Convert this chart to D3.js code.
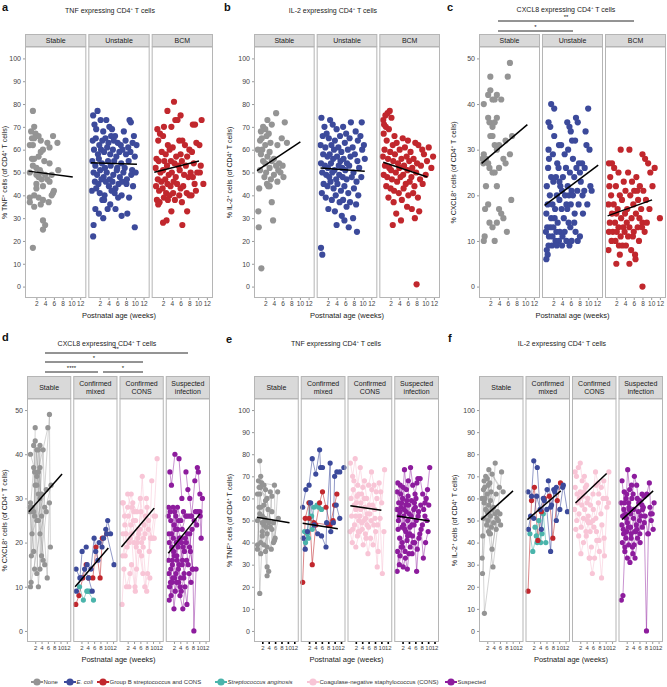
<!DOCTYPE html>
<html><head><meta charset="utf-8">
<script src="https://cdn.jsdelivr.net/npm/d3@7"></script>
<style>body{margin:0;background:#fff}</style>
</head><body>
<script>
// ---------------- DATA ----------------
const xTicks = [2,4,6,8,10,12];
const yTicks100 = [0,10,20,30,40,50,60,70,80,90,100];
const yTicks50 = [0,10,20,30,40,50];
const topFacets = ["Stable","Unstable","BCM"];
const bottomFacets = [["Stable"],["Confirmed","mixed"],["Confirmed","CONS"],["Suspected","infection"]];

// [week, %, subject]
const aStable = [[1.2,77,1],[1.5,70,2],[0.8,68,3],[1.8,67,1],[2.5,66,2],[1.0,65,4],[1.5,65,5],[3.0,64,3],[5.8,66,1],[0.5,62,6],[1.2,62,7],[6.8,63,2],[3.5,60,4],[3.0,59,5],[2.5,57,6],[1.0,56,8],[1.5,56,9],[3.8,55,7],[5.0,54,3],[1.2,53,10],[2.0,52,8],[2.8,51,9],[7.0,51,4],[0.5,50,11],[3.0,50,10],[2.0,49,11],[4.0,49,5],[5.5,49,6],[2.5,48,12],[3.2,47,7],[4.5,47,8],[5.0,46,9],[2.0,45,10],[3.5,44,12],[2.0,43,11],[6.0,42,1],[5.8,41,2],[1.5,40,3],[5.5,40,4],[0.5,39,5],[2.5,39,6],[3.5,38,7],[0.5,37,8],[4.8,37,9],[3.0,36,10],[1.5,35,11],[3.5,29,12],[4.0,27,12],[3.5,25,10],[1.2,17,6],[4.5,63,3],[5.0,61,5]];
const aUnstable = [[0.5,75],[1.5,77],[0.8,71],[2.2,73],[3.5,73],[4.8,69],[8.8,73],[9.1,72],[1.2,69],[2.8,68],[4.2,70],[5.5,66],[7.5,68],[9.8,66],[0.4,64],[1.1,65],[1.9,62],[2.6,64],[3.3,65],[4.0,63],[4.6,66],[5.2,64],[6.1,63],[6.8,62],[7.9,64],[8.5,61],[9.5,63],[10.4,62],[0.7,60],[1.6,58],[2.3,60],[3.0,59],[3.7,61],[4.4,58],[5.0,60],[5.8,57],[6.5,59],[7.2,60],[8.0,58],[9.0,59],[10.0,57],[0.3,55],[1.0,53],[1.8,56],[2.5,54],[3.2,52],[3.9,55],[4.5,53],[5.3,55],[6.0,52],[6.9,54],[7.7,52],[8.6,55],[9.4,51],[0.6,50],[1.4,49],[2.1,51],[2.9,48],[3.6,50],[4.3,47],[5.1,49],[5.9,51],[6.6,48],[7.4,50],[8.2,47],[9.2,49],[10.2,50],[0.9,46],[1.7,45],[2.4,47],[3.4,46],[4.1,44],[4.9,46],[5.6,43],[6.3,45],[7.1,46],[8.1,45],[9.6,44],[0.2,42],[1.2,43],[2.0,41],[3.1,40],[4.7,42],[5.4,41],[6.2,39],[7.0,40],[8.7,39],[1.0,34],[1.8,32],[2.6,38],[3.0,38],[3.8,34],[4.4,36],[5.6,34],[7.0,31],[8.3,32],[2.8,30],[0.6,27],[0.5,22],[10.0,26]];
const aBCM = [[4.5,81],[3.0,77],[6.0,75],[4.8,73],[5.3,73],[10.8,73],[0.7,69],[2.2,70],[3.9,70],[8.8,71],[9.3,71],[1.3,67],[2.0,66],[5.7,64],[6.4,64],[9.6,63],[0.9,64],[3.1,62],[4.2,61],[7.0,62],[8.0,60],[10.3,62],[1.7,59],[2.6,58],[3.5,60],[5.0,57],[6.0,58],[7.5,57],[8.6,59],[0.5,56],[1.0,55],[2.3,55],[2.9,53],[3.8,55],[4.6,54],[5.5,53],[6.3,55],[7.2,53],[9.0,54],[10.6,53],[0.3,52],[1.4,50],[2.0,51],[3.3,49],[4.0,50],[4.9,48],[5.8,51],[6.8,49],[7.8,48],[8.3,50],[9.8,50],[10.4,50],[0.8,47],[1.6,46],[2.5,47],[3.0,45],[3.7,44],[4.4,46],[5.2,45],[6.0,43],[6.6,44],[8.8,48],[9.2,45],[11.2,45],[0.4,44],[1.1,42],[1.9,43],[2.7,41],[3.5,40],[4.3,41],[5.7,40],[7.4,41],[8.5,40],[9.5,42],[0.6,38],[1.2,37],[0.9,36],[2.2,39],[3.1,38],[4.7,38],[6.3,37],[8.0,40],[3.9,33],[7.5,33],[2.0,28],[2.8,29],[6.4,27]];

const bStable = [[4.5,76,1],[2.5,73,2],[6.5,72,3],[3.5,71,4],[1.5,70,5],[2.0,69,6],[1.0,68,7],[2.8,67,1],[2.3,66,8],[1.2,65,9],[5.8,65,2],[0.8,64,10],[3.2,63,3],[7.0,63,4],[4.8,62,5],[2.0,62,11],[0.3,60,12],[1.3,60,1],[3.0,59,6],[1.0,58,7],[2.5,57,8],[4.0,56,9],[1.5,55,10],[3.5,55,11],[5.2,54,12],[2.0,54,2],[4.5,53,3],[6.0,53,6],[3.0,52,7],[0.8,51,4],[5.0,51,8],[2.2,50,9],[5.5,50,10],[4.0,49,11],[1.8,48,5],[6.2,48,12],[3.3,47,1],[4.8,46,3],[2.4,45,2],[2.7,44,4],[3.0,44,6],[0.6,43,7],[3.5,37,8],[0.4,33,9],[3.8,29,10],[0.5,26,11],[1.1,8,12]];
const bUnstable = [[0.5,74],[2.5,73],[7.3,72],[9.8,72],[1.2,70],[3.1,71],[4.0,69],[5.5,70],[6.2,67],[8.4,68],[0.8,66],[1.7,67],[2.2,65],[3.6,64],[4.8,66],[5.9,63],[7.0,65],[8.9,64],[9.5,66],[10.3,62],[0.3,62],[1.4,61],[2.8,62],[3.4,60],[4.4,61],[5.1,59],[6.6,60],[7.7,61],[8.2,58],[9.9,60],[0.9,58],[1.9,57],[2.4,58],[3.2,56],[4.1,57],[4.9,55],[5.6,56],[6.4,54],[7.2,57],[8.8,55],[10.5,56],[0.4,54],[1.3,53],[2.0,52],[2.7,54],[3.5,51],[4.5,53],[5.3,52],[6.0,51],[6.9,53],[7.9,50],[9.2,52],[0.7,50],[1.6,49],[2.3,48],[3.0,50],[3.9,47],[4.6,49],[5.4,48],[6.3,47],[7.5,48],[8.6,46],[9.7,48],[1.0,45],[1.9,44],[2.6,46],[3.3,43],[4.2,45],[5.0,42],[5.8,44],[6.7,41],[8.0,43],[9.0,40],[0.6,41],[1.5,39],[2.9,38],[3.8,40],[4.7,37],[5.5,38],[7.1,37],[8.5,36],[2.1,34],[3.6,33],[5.2,31],[6.3,35],[7.8,30],[4.0,27],[6.8,26],[8.7,24],[0.4,17],[0.7,14],[5.8,29]];
const bBCM = [[1.8,77],[1.3,76],[0.8,75],[2.2,74],[0.3,73],[0.5,71],[0.9,70],[1.6,69],[0.4,67],[2.9,66],[4.8,65],[6.0,64],[7.7,63],[1.1,64],[2.5,62],[3.4,63],[5.3,61],[8.4,62],[9.3,60],[10.8,61],[0.6,60],[1.9,59],[3.0,58],[4.1,60],[5.7,57],[6.6,59],[7.3,56],[9.7,58],[11.8,57],[0.2,57],[1.4,56],[2.6,55],[3.7,54],[4.5,56],[5.1,53],[6.3,55],[7.0,52],[8.1,54],[9.0,53],[10.4,55],[0.7,53],[1.7,52],[2.1,51],[3.2,50],[4.0,52],[4.9,49],[5.9,51],[6.8,48],[7.9,50],[8.8,47],[10.1,49],[11.4,52],[0.4,49],[1.2,48],[2.3,47],[3.5,46],[4.3,48],[5.5,45],[6.4,46],[7.5,44],[9.4,45],[1.0,44],[2.0,43],[2.8,42],[3.9,41],[5.0,43],[6.1,40],[7.2,41],[8.3,39],[1.5,39],[2.7,37],[4.6,38],[5.8,35],[6.9,34],[3.3,32],[8.6,33],[4.4,29],[7.6,30],[2.5,27],[8.0,1]];

const cStable = [[6.5,49,1],[2.0,46,2],[6.0,46,3],[2.0,43,4],[1.5,42,5],[2.5,41,6],[3.0,41,7],[3.5,42,8],[4.5,41,9],[0.5,40,10],[1.5,37,1],[1.8,36,2],[2.5,35,3],[3.0,36,4],[3.5,37,5],[2.0,33,6],[2.5,33,7],[3.0,31,8],[3.5,30,9],[4.0,31,10],[5.5,32,11],[7.0,33,12],[1.0,28,11],[0.5,29,12],[0.4,27,1],[0.2,28,2],[1.5,27,3],[1.8,26,4],[2.5,25,5],[3.0,25,6],[4.0,26,7],[5.5,27,8],[5.0,28,9],[6.5,29,10],[1.0,22,11],[3.5,22,12],[6.8,19,1],[1.5,18,2],[0.8,17,3],[4.0,17,4],[4.5,16,5],[5.0,15,6],[1.8,14,7],[3.5,14,8],[2.5,13,9],[5.8,12,10],[0.7,11,11],[0.5,10,12],[3.0,10,1]];
const cUnstable = [[1.5,40],[2.2,39],[10.0,39],[7.2,37],[0.9,36],[5.2,36],[1.3,35],[5.7,35],[6.0,34],[7.6,36],[9.4,34],[2.2,33],[7.0,32],[6.3,32],[3.8,31],[3.3,31],[9.6,31],[5.4,30],[0.9,30],[10.3,30],[1.9,29],[4.6,29],[8.6,27],[1.0,28],[2.9,27],[6.5,28],[7.9,27],[9.2,26],[0.8,26],[3.2,26],[4.9,26],[7.3,26],[5.8,25],[1.5,24],[2.6,24],[4.2,24],[6.8,24],[8.3,23],[10.5,22],[0.5,22],[2.0,23],[3.6,22],[5.3,22],[6.2,21],[7.5,21],[9.1,21],[10.8,21],[1.2,20],[2.8,20],[4.0,21],[4.7,20],[5.6,20],[6.5,20],[8.7,20],[0.7,18],[1.8,18],[3.4,19],[5.0,18],[6.0,18],[7.8,18],[9.8,18],[2.4,17],[3.9,17],[5.2,17],[6.9,16],[8.8,16],[0.4,16],[1.5,15],[2.3,15],[3.0,14],[4.4,15],[5.5,14],[6.8,14],[0.6,13],[1.3,13],[2.0,13],[2.7,12],[3.5,12],[4.6,12],[5.9,13],[7.1,12],[8.1,11],[0.3,12],[1.0,11],[1.8,11],[2.5,10],[3.3,10],[4.1,11],[5.0,10],[6.2,10],[7.6,10],[0.9,9],[1.7,9],[2.8,9],[4.0,9],[5.7,9],[0.5,8],[0.7,7],[0.4,6],[3.4,23],[8.1,25]];
const cBCM = [[3.0,30],[5.0,30],[8.0,29],[8.6,28],[0.3,27],[1.0,27],[9.3,27],[1.5,26],[10.8,26],[2.5,25],[4.7,25],[6.6,24],[0.6,24],[9.8,25],[3.7,23],[5.6,23],[7.4,22],[0.4,22],[1.9,22],[4.1,21],[6.1,21],[6.8,21],[8.2,21],[10.3,22],[0.8,20],[2.8,20],[3.3,19],[5.2,20],[7.0,19],[8.8,19],[9.6,17],[0.2,18],[1.4,18],[2.3,17],[4.5,17],[5.9,18],[7.7,17],[1.0,16],[2.0,16],[3.1,15],[4.0,16],[5.5,15],[6.5,16],[7.3,15],[8.0,14],[9.0,14],[12.0,15],[0.5,14],[1.7,14],[2.5,13],[3.6,13],[4.4,14],[5.0,13],[6.0,12],[6.9,13],[7.9,13],[8.5,12],[0.3,12],[1.2,12],[2.1,12],[3.0,11],[3.9,12],[4.7,11],[5.8,11],[7.2,10],[0.9,10],[1.8,10],[2.6,9],[3.4,9],[4.2,9],[5.4,8],[6.3,7],[0.2,8],[2.8,7],[6.4,6],[2.0,5],[5.0,5],[8.0,0]];

// bottom row: [week, %, subject]
const dEcoli = [[0.3,14,1],[1.5,12,1],[2.2,18,1],[3.5,19,1],[0.4,9,2],[1.8,12,2],[3.0,14,2],[4.2,12,2],[5.4,9,2],[3.8,15,3],[5.0,14,3],[6.0,21,3],[7.2,16,3],[6.5,18,4],[7.6,20,4],[8.5,19,4],[9.7,23,4],[10.3,25,4],[11.2,22,4],[9.0,21,5],[10.0,22,5],[12.3,15,5]];
const dGBS = [[0.2,6,1],[1.2,8,1],[2.4,12,1],[3.5,15,1],[4.3,12,2],[5.6,12,2],[6.6,19,2],[7.9,12,2],[8.6,21,2],[10.0,22,2]];
const dAnginosis = [[1.4,10,1],[2.6,7,1],[3.7,9,1],[4.6,9,1],[4.0,9,2],[5.8,7,2]];
const dCONS = [[0.3,29,1],[1.0,26,1],[2.0,28,1],[3.1,31,1],[4.0,27,1],[0.5,22,2],[1.2,17,2],[2.5,20,2],[3.3,22,2],[4.5,25,2],[0.2,6,3],[0.8,14,3],[1.6,10,3],[2.7,13,3],[1.1,24,4],[2.2,26,4],[3.6,29,4],[4.9,27,4],[6.0,30,4],[7.2,24,4],[0.6,29,5],[1.8,19,5],[3.0,24,5],[4.3,10,5],[5.2,21,5],[2.0,31,6],[3.8,25,6],[5.5,22,6],[6.6,35,6],[7.5,22,6],[2.4,10,7],[3.2,15,7],[4.4,9,7],[5.7,18,7],[6.8,13,7],[5.0,20,8],[6.2,27,8],[7.0,21,8],[8.1,28,8],[8.8,18,8],[9.6,34,8],[6.4,17,9],[7.4,10,9],[8.3,13,9],[9.2,21,9],[10.4,21,9],[7.9,30,10],[8.6,25,10],[9.4,21,10],[10.3,26,10],[11.3,39,10],[4.7,19,11],[5.9,23,11],[6.9,19,11],[8.0,9,11],[9.0,12,11],[1.4,22,12],[2.8,21,12],[4.0,20,12],[5.3,23,12],[6.4,20,12],[0.4,17,13],[1.5,22,13],[3.4,28,13],[4.8,14,13],[7.6,26,14],[8.5,23,14],[10.0,21,14],[10.8,26,14]];
const dSuspected = [[0.7,36,1],[1.2,33,1],[2.3,40,1],[3.6,39,1],[4.5,30,1],[0.3,28,2],[1.0,25,2],[1.8,21,2],[2.6,26,2],[3.2,20,2],[0.4,13,3],[0.9,11,3],[1.5,15,3],[2.2,12,3],[3.0,16,3],[4.1,12,3],[0.5,20,4],[1.3,19,4],[2.0,24,4],[2.9,17,4],[3.7,21,4],[4.6,15,4],[0.6,10,5],[1.1,8,5],[1.6,12,5],[2.4,9,5],[3.4,14,5],[4.0,10,5],[0.5,7,6],[1.4,11,6],[2.0,5,6],[2.8,11,6],[3.9,8,6],[4.8,5,6],[5.5,10,6],[5.8,36,7],[6.4,32,7],[7.0,30,7],[7.6,26,7],[8.6,34,7],[9.4,37,7],[9.7,36,7],[10.2,31,7],[0.2,26,8],[0.8,27,8],[1.7,28,8],[2.5,23,8],[3.1,28,8],[4.2,25,8],[5.0,27,8],[6.1,26,8],[2.1,17,9],[3.3,19,9],[4.4,20,9],[5.3,18,9],[6.2,22,9],[6.9,19,9],[7.7,23,9],[3.5,11,10],[4.3,9,10],[5.1,12,10],[6.1,6,10],[6.8,13,10],[7.4,11,10],[4.7,16,11],[5.6,21,11],[6.5,15,11],[7.2,18,11],[8.0,14,11],[8.3,0,11],[9.0,14,11],[1.0,14,12],[1.9,18,12],[2.7,20,12],[3.5,25,12],[4.6,23,12],[5.7,26,12],[6.7,26,12],[7.3,26,12],[8.8,27,13],[9.5,27,13],[10.2,27,13],[10.6,21,13],[11.0,30,13],[0.3,16,14],[1.2,22,14],[2.2,27,14],[3.2,23,14],[4.1,21,14],[5.2,13,14],[6.0,16,14],[0.4,22,15],[1.5,16,15],[2.6,13,15],[3.6,15,15],[4.9,19,15],[5.9,20,15],[7.0,22,16],[7.8,14,16],[8.4,25,16],[9.2,24,16],[10.3,26,16]];

const eEcoli = [[0.0,56,1],[1.0,64,1],[2.0,66,1],[3.0,78,1],[4.1,71,1],[5.3,82,1],[5.6,74,1],[6.2,74,1],[0.2,42,2],[0.8,37,2],[1.5,45,2],[2.5,58,2],[3.6,48,2],[4.7,44,2],[5.9,43,2],[7.3,38,2],[7.5,49,2],[8.6,76,2],[8.8,45,2],[9.6,49,3],[10.0,70,3],[10.7,72,3],[11.6,72,3],[12.9,74,3],[10.5,57,4],[11.6,51,4]];
const eGBS = [[0.0,22,1],[0.8,51,1],[2.0,58,1],[3.0,30,1],[4.1,48,1],[5.3,58,1],[6.2,63,1],[7.3,56,1],[8.6,48,1],[10.0,57,1],[10.7,62,1],[2.0,51,2],[3.5,49,2],[8.0,48,2],[9.5,50,2]];
const eAnginosis = [[0.6,45,1],[1.5,44,1],[2.0,58,1],[3.0,46,1],[3.5,56,1],[4.5,57,1],[5.0,56,1],[5.9,55,1],[0.9,40,2],[1.8,42,2],[2.8,52,2]];
const eCONS = [[0.3,76,1],[1.0,70,1],[1.8,78,1],[2.6,66,1],[3.4,74,1],[4.2,65,1],[0.5,60,2],[1.2,64,2],[2.0,55,2],[2.9,62,2],[3.6,58,2],[4.5,50,2],[0.2,45,3],[0.9,40,3],[1.6,48,3],[2.5,43,3],[3.3,52,3],[1.4,68,4],[2.2,58,4],[3.0,50,4],[4.0,46,4],[4.8,56,4],[5.5,48,4],[6.4,53,4],[3.8,62,5],[4.7,68,5],[5.4,60,5],[6.2,57,5],[7.0,64,5],[7.9,55,5],[8.6,60,5],[5.0,44,6],[5.8,35,6],[6.6,42,6],[7.4,39,6],[8.2,45,6],[9.0,36,6],[6.0,66,7],[6.9,72,7],[7.7,66,7],[8.4,63,7],[9.3,67,7],[10.1,58,7],[11.0,73,7],[2.0,38,8],[3.2,45,8],[4.3,39,8],[5.2,42,8],[6.8,50,8],[7.6,48,8],[8.0,51,9],[8.8,48,9],[9.6,51,9],[10.3,26,9],[10.8,45,9],[0.7,52,10],[1.5,57,10],[2.4,61,10],[3.5,55,10],[4.6,60,10],[5.6,53,10],[7.2,57,10],[8.7,29,10],[9.8,63,10],[1.0,46,11],[2.0,52,11],[2.8,45,11],[3.9,49,11],[5.1,51,11],[6.0,47,11]];
const eSuspected = [[0.3,63,1],[0.8,58,1],[1.3,66,1],[2.0,60,1],[2.6,73,1],[3.2,64,1],[3.8,68,1],[0.2,55,2],[0.7,50,2],[1.2,54,2],[1.8,47,2],[2.4,52,2],[3.0,45,2],[3.6,50,2],[4.2,44,2],[0.4,36,3],[1.0,30,3],[1.6,38,3],[2.2,29,3],[2.9,33,3],[3.5,28,3],[4.0,35,3],[0.3,27,4],[1.1,42,4],[1.9,40,4],[2.7,46,4],[3.4,41,4],[4.4,38,4],[5.1,43,4],[0.5,67,5],[1.4,62,5],[2.2,65,5],[3.0,57,5],[3.7,61,5],[4.5,74,5],[5.2,66,5],[5.9,62,5],[6.5,67,5],[0.6,46,6],[1.5,56,6],[2.3,48,6],[3.1,54,6],[3.9,57,6],[4.7,52,6],[5.5,55,6],[6.3,50,6],[7.0,54,6],[4.8,59,7],[5.6,48,7],[6.4,27,7],[7.1,42,7],[7.8,46,7],[8.5,33,7],[9.2,40,7],[10.0,45,7],[5.0,35,8],[5.8,40,8],[6.6,37,8],[7.4,44,8],[8.2,48,8],[9.0,52,8],[9.6,50,8],[6.8,69,9],[7.5,69,9],[8.3,62,9],[9.0,58,9],[9.8,64,9],[10.5,74,9],[0.9,52,10],[1.7,58,10],[2.5,55,10],[3.3,59,10],[4.1,53,10],[4.9,48,10],[5.7,58,10],[6.2,60,10],[1.2,34,11],[2.0,38,11],[2.8,36,11],[3.6,43,11],[4.3,47,11],[5.3,40,11],[6.0,56,12],[6.9,52,12],[7.7,57,12],[8.6,55,12],[9.4,60,12],[10.2,57,12]];

const fEcoli = [[0.2,63,1],[1.3,61,1],[2.0,77,1],[3.1,74,1],[4.4,46,1],[5.3,59,1],[0.3,46,2],[1.0,52,2],[2.0,51,2],[2.9,61,2],[4.0,55,2],[5.0,60,2],[6.2,64,2],[7.3,56,2],[6.1,55,3],[7.3,36,3],[8.3,64,3],[9.1,65,3],[9.1,50,3],[10.2,55,3],[11.3,66,3],[12.6,54,3],[6.6,68,4],[7.6,57,4],[8.6,63,4],[11.1,65,4]];
const fGBS = [[0.2,18,1],[1.3,59,1],[2.2,65,1],[3.3,41,1],[4.4,54,1],[5.3,60,1],[6.9,61,1],[8.0,42,1],[9.4,59,1],[10.4,67,1]];
const fAnginosis = [[0.8,44,1],[1.7,36,1],[2.8,43,1],[3.6,50,1],[4.2,40,1],[5.0,53,1],[5.8,40,1],[2.4,47,2],[3.1,40,2],[4.6,44,2]];
const fCONS = [[0.3,72,1],[0.8,70,1],[1.4,74,1],[2.0,76,1],[2.6,68,1],[3.3,70,1],[4.0,66,1],[0.4,65,2],[1.0,62,2],[1.7,60,2],[2.5,57,2],[3.2,63,2],[4.1,58,2],[0.2,55,3],[0.9,50,3],[1.6,53,3],[2.3,47,3],[3.0,51,3],[3.8,45,3],[4.6,49,3],[0.6,46,4],[1.5,43,4],[2.2,35,4],[3.0,40,4],[3.9,43,4],[4.8,33,4],[5.5,38,4],[2.8,61,5],[3.6,65,5],[4.4,60,5],[5.2,57,5],[6.0,62,5],[6.8,72,5],[7.6,67,5],[4.5,52,6],[5.3,49,6],[6.1,55,6],[6.9,51,6],[7.7,58,6],[8.5,53,6],[9.2,60,6],[5.0,33,7],[5.8,26,7],[6.5,33,7],[7.2,41,7],[8.0,36,7],[8.7,24,7],[9.5,42,7],[6.3,47,8],[7.1,45,8],[7.9,41,8],[8.8,48,8],[9.6,34,8],[10.4,56,8],[11.0,72,8],[1.2,58,9],[2.0,63,9],[3.4,55,9],[4.2,50,9],[5.1,45,9],[6.0,50,9],[7.0,66,10],[7.8,62,10],[8.6,65,10],[9.4,68,10],[10.2,60,10],[10.9,58,10]];
const fSuspected = [[0.2,58,1],[0.7,52,1],[1.2,63,1],[1.8,60,1],[2.3,73,1],[2.9,64,1],[3.5,66,1],[4.0,62,1],[0.3,14,2],[0.8,16,2],[1.4,38,2],[2.0,45,2],[2.6,39,2],[3.2,47,2],[3.9,35,2],[0.4,48,3],[1.0,44,3],[1.6,53,3],[2.2,49,3],[2.8,55,3],[3.4,42,3],[4.1,51,3],[4.8,45,3],[0.5,68,4],[1.3,58,4],[2.0,62,4],[2.7,56,4],[3.6,60,4],[4.4,70,4],[5.1,66,4],[5.8,58,4],[0.6,40,5],[1.4,36,5],[2.2,33,5],[3.0,31,5],[3.8,38,5],[4.6,33,5],[5.4,42,5],[6.2,40,5],[1.1,55,6],[1.9,51,6],[2.6,58,6],[3.3,53,6],[4.2,55,6],[5.0,48,6],[5.7,54,6],[6.5,52,6],[7.2,56,6],[4.5,45,7],[5.3,60,7],[6.1,44,7],[6.8,62,7],[7.5,49,7],[8.2,0,7],[8.8,44,7],[9.5,53,7],[6.0,59,8],[6.8,57,8],[7.5,61,8],[8.3,62,8],[9.1,67,8],[9.7,50,8],[10.3,46,8],[0.9,46,9],[1.7,42,9],[2.5,47,9],[3.4,44,9],[4.3,39,9],[5.2,46,9],[6.0,50,9],[6.9,47,9],[7.0,55,10],[7.8,52,10],[8.6,44,10],[9.3,56,10],[10.0,53,10],[10.6,58,10]];

// fitted trend lines: [start, end] per facet
const trendA = [[[0.2,50.6],[10.3,48]],[[0,54.3],[10.5,53.6]],[[0,50.1],[10.2,55]]];
const trendB = [[[0.1,50.8],[10.1,63.4]],[[0.3,52],[10.5,50.5]],[[0.3,54.5],[10.5,48]]];
const trendC = [[[0,27],[10.5,35.5]],[[0,17.8],[12.3,26.6]],[[0,15.5],[10.2,19]]];
const trendD = [[[0,27],[10.5,35.5]],[[0,10],[10.5,18.8]],[[0,19],[10.4,27.8]],[[0.2,17.6],[10.2,26.5]]];
const trendE = [[[0.3,51.5],[10.5,49]],[[0,48.8],[11,46.3]],[[0.3,56.7],[10,54.6]],[[0.3,52],[10.5,49.8]]];
const trendF = [[[0.1,50.4],[10.1,63.4]],[[0,50.4],[10.5,63.4]],[[0.5,57.9],[10.3,71.3]],[[0.5,50.4],[10.3,63.4]]];

const legendLabels = [["None",false],["E. coli",true],["Group B streptococcus and CONS",false],["Streptococcus anginosis",true],["Coagulase-negative staphylococcus (CONS)",false],["Suspected",false]];

// ---------------- STYLE ----------------
const GRAY='#949494', BLUE='#3C4A9B', RED='#C1272D', TEAL='#4AB4AB', PINK='#F8C5D6', PURPLE='#8D1C9D';
const legendColors=[GRAY,BLUE,RED,TEAL,PINK,PURPLE];
const FONT='"Liberation Sans", Arial, Helvetica, sans-serif';
const xDomain=[-0.6,13.4];

const svg=d3.select('body').append('svg').attr('width',667).attr('height',687)
  .style('font-family',FONT);
svg.append('rect').attr('width',667).attr('height',687).attr('fill','#fff');

function rich(sel, parts, size){
  let pend=0;
  parts.forEach(p=>{
    const t=sel.append('tspan').text(p[0]);
    if(p[1]==='sup'){ t.attr('dy',-size*0.4+pend).attr('font-size',size*0.62); pend=size*0.4; }
    else { if(pend) t.attr('dy',pend); pend=0; }
  });
}
function titleParts(name){return [[name+' expressing CD4',''],['+','sup'],[' T cells','']];}
function yTitleParts(name){return [['% '+name,''],['+','sup'],[' cells (of CD4','' ],['+','sup'],[' T cells)','']];}

function drawPanel(c){
  const g=svg.append('g');
  const n=c.facets.length, gap=2;
  const fw=(c.right-c.left-gap*(n-1))/n;
  const y=d3.scaleLinear().domain(c.yDomain).range([c.plotBot,c.stripBot]);
  g.append('text').attr('x',c.labelX).attr('y',c.labelY).attr('font-size',11).attr('font-weight','bold').attr('fill','#111').text(c.label);
  const tt=g.append('text').attr('x',c.titleX).attr('y',c.titleY).attr('text-anchor','middle').attr('font-size',7).attr('fill','#222');
  rich(tt,c.title,7);
  (c.sig||[]).forEach(s=>{
    g.append('line').attr('x1',s.x1).attr('x2',s.x2).attr('y1',s.y).attr('y2',s.y).attr('stroke','#111').attr('stroke-width',0.9);
    g.append('text').attr('x',(s.x1+s.x2)/2).attr('y',s.y-2).attr('text-anchor','middle').attr('font-size',6).attr('fill','#111').text(s.t);
  });
  const cx=(c.left+c.right)/2;
  c.facets.forEach((f,i)=>{
    const x0=c.left+i*(fw+gap);
    const x=d3.scaleLinear().domain(xDomain).range([x0,x0+fw]);
    g.append('rect').attr('x',x0+0.5).attr('y',c.stripTop+0.5).attr('width',fw-1).attr('height',c.stripBot-c.stripTop-1)
      .attr('fill','#d9d9d9').attr('stroke','#b5b5b5').attr('stroke-width',1);
    const lines=f.name;
    const mid=(c.stripTop+c.stripBot)/2;
    lines.forEach((t,j)=>{
      g.append('text').attr('x',x0+fw/2).attr('y',mid+(j-(lines.length-1)/2)*8+2.5)
        .attr('text-anchor','middle').attr('font-size',7).attr('fill','#1a1a1a').text(t);
    });
    g.append('rect').attr('x',x0+0.5).attr('y',c.stripBot).attr('width',fw-1).attr('height',c.plotBot-c.stripBot-0.5).attr('fill','#fff');
    const fg=g.append('g');
    f.series.forEach(s=>{
      if(s.connect){
        const groups=d3.groups(s.data,d=>d[2]);
        groups.forEach(([id,pts])=>{
          const sorted=pts.slice().sort((a,b)=>a[0]-b[0]);
          fg.append('path').attr('d',d3.line().x(d=>x(d[0])).y(d=>y(d[1]))(sorted))
            .attr('fill','none').attr('stroke',s.color).attr('stroke-width',0.8).attr('stroke-opacity',s.lineOpacity||0.6);
        });
      }
    });
    f.series.forEach(s=>{
      fg.selectAll(null).data(s.data).join('circle')
        .attr('cx',d=>x(d[0])).attr('cy',d=>y(d[1])).attr('r',c.r).attr('fill',s.color);
    });
    fg.append('path').attr('d',d3.line().x(d=>x(d[0])).y(d=>y(d[1]))(f.trend))
      .attr('stroke','#000').attr('stroke-width',1.5).attr('fill','none');
    g.append('rect').attr('x',x0+0.5).attr('y',c.stripBot).attr('width',fw-1).attr('height',c.plotBot-c.stripBot-0.5)
      .attr('fill','none').attr('stroke','#b5b5b5').attr('stroke-width',1);
    const ax=g.append('g').attr('transform',`translate(0,${c.plotBot})`)
      .call(d3.axisBottom(x).tickValues(xTicks).tickSize(2).tickPadding(1.5));
    ax.select('.domain').remove();
    ax.selectAll('line').attr('stroke',c.darkTicks?'#000':'#555').attr('stroke-width',c.darkTicks?1.6:0.6);
    ax.selectAll('text').attr('font-size',c.xFont).attr('fill','#444').attr('font-family',FONT);
  });
  const ay=g.append('g').attr('transform',`translate(${c.left},0)`)
    .call(d3.axisLeft(y).tickValues(c.yTicks).tickSize(2).tickPadding(2));
  ay.select('.domain').remove();
  ay.selectAll('line').attr('stroke','#555').attr('stroke-width',0.6);
  ay.selectAll('text').attr('font-size',7).attr('fill','#444').attr('font-family',FONT);
  g.append('text').attr('x',cx).attr('y',c.xTitleY).attr('text-anchor','middle').attr('font-size',7.5).attr('fill','#222').text('Postnatal age (weeks)');
  const yt=g.append('text').attr('transform',`translate(${c.yTitleX},${(c.stripBot+c.plotBot)/2}) rotate(-90)`)
    .attr('text-anchor','middle').attr('font-size',7).attr('fill','#222');
  rich(yt,c.yTitle,7);
}

const topRow={stripTop:34,stripBot:47,plotBot:298,xTitleY:318,r:3.1,xFont:6.5};
const botRow={stripTop:376,stripBot:399,plotBot:642,xTitleY:662,r:2.6,xFont:6};
const simple=(arr,col)=>({data:arr,color:col});
const linked=(arr,col,op)=>({data:arr,color:col,connect:true,lineOpacity:op});

drawPanel(Object.assign({},topRow,{label:'a',labelX:2,labelY:10.5,title:titleParts('TNF'),titleX:110,titleY:12.5,
  left:25,right:213,yDomain:[-5,105],yTicks:yTicks100,yTitle:yTitleParts('TNF'),yTitleX:7,
  facets:topFacets.map((nm,i)=>({name:[nm],series:[simple([aStable,aUnstable,aBCM][i],[GRAY,BLUE,RED][i])],trend:trendA[i]}))}));
drawPanel(Object.assign({},topRow,{label:'b',labelX:224,labelY:10.5,title:titleParts('IL-2'),titleX:333,titleY:12.5,
  left:254,right:440,yDomain:[-5,105],yTicks:yTicks100,yTitle:yTitleParts('IL-2'),yTitleX:232,
  facets:topFacets.map((nm,i)=>({name:[nm],series:[simple([bStable,bUnstable,bBCM][i],[GRAY,BLUE,RED][i])],trend:trendB[i]}))}));
drawPanel(Object.assign({},topRow,{label:'c',labelX:447,labelY:10.5,title:titleParts('CXCL8'),titleX:566,titleY:12,
  left:479,right:666,yDomain:[-2.5,52.5],yTicks:yTicks50,yTitle:yTitleParts('CXCL8'),yTitleX:456,
  sig:[{x1:498,x2:634,y:21,t:'**'},{x1:498,x2:573,y:31,t:'*'}],
  facets:topFacets.map((nm,i)=>({name:[nm],series:[simple([cStable,cUnstable,cBCM][i],[GRAY,BLUE,RED][i])],trend:trendC[i]}))}));

function bottomFacetList(stable,ecoli,gbs,ang,cons,susp,trend){
  return [
    {name:bottomFacets[0],series:[linked(stable,GRAY,0.5)],trend:trend[0]},
    {name:bottomFacets[1],series:[linked(ang,TEAL,0.7),linked(gbs,RED,0.7),linked(ecoli,BLUE,0.7)],trend:trend[1]},
    {name:bottomFacets[2],series:[linked(cons,PINK,0.7)],trend:trend[2]},
    {name:bottomFacets[3],series:[linked(susp,PURPLE,0.6)],trend:trend[3]}
  ];
}
drawPanel(Object.assign({},botRow,{label:'d',labelX:2,labelY:341,title:titleParts('CXCL8'),titleX:107,titleY:346,
  left:27,right:210,yDomain:[-2.5,52.5],yTicks:yTicks50,yTitle:yTitleParts('CXCL8'),yTitleX:7,
  sig:[{x1:45,x2:188,y:353,t:'**'},{x1:45,x2:143,y:362,t:'*'},{x1:45,x2:98,y:372,t:'****'},{x1:103,x2:143,y:372,t:'*'}],
  facets:bottomFacetList(cStable,dEcoli,dGBS,dAnginosis,dCONS,dSuspected,trendD)}));
drawPanel(Object.assign({},botRow,{label:'e',labelX:226,labelY:343,title:titleParts('TNF'),titleX:336,titleY:346,darkTicks:true,
  left:254,right:439,yDomain:[-5,105],yTicks:yTicks100,yTitle:yTitleParts('TNF'),yTitleX:232,
  facets:bottomFacetList(aStable,eEcoli,eGBS,eAnginosis,eCONS,eSuspected,trendE)}));
drawPanel(Object.assign({},botRow,{label:'f',labelX:448,labelY:342,title:titleParts('IL-2'),titleX:562,titleY:346,
  left:479,right:663,yDomain:[-5,105],yTicks:yTicks100,yTitle:yTitleParts('IL-2'),yTitleX:457,
  facets:bottomFacetList(bStable,fEcoli,fGBS,fAnginosis,fCONS,fSuspected,trendF)}));

// legend
const legendX=[37,70,103,221,313,451];
const lg=svg.append('g');
legendLabels.forEach((l,i)=>{
  const kx=legendX[i], ky=682;
  lg.append('line').attr('x1',kx-6).attr('x2',kx+6).attr('y1',ky).attr('y2',ky).attr('stroke',legendColors[i]).attr('stroke-width',2);
  lg.append('circle').attr('cx',kx).attr('cy',ky).attr('r',3.6).attr('fill',legendColors[i]);
  lg.append('text').attr('x',kx+6.5).attr('y',ky+2.2).attr('font-size',6).attr('fill','#333')
    .attr('font-style',l[1]?'italic':'normal').text(l[0]);
});
</script>
</body></html>
